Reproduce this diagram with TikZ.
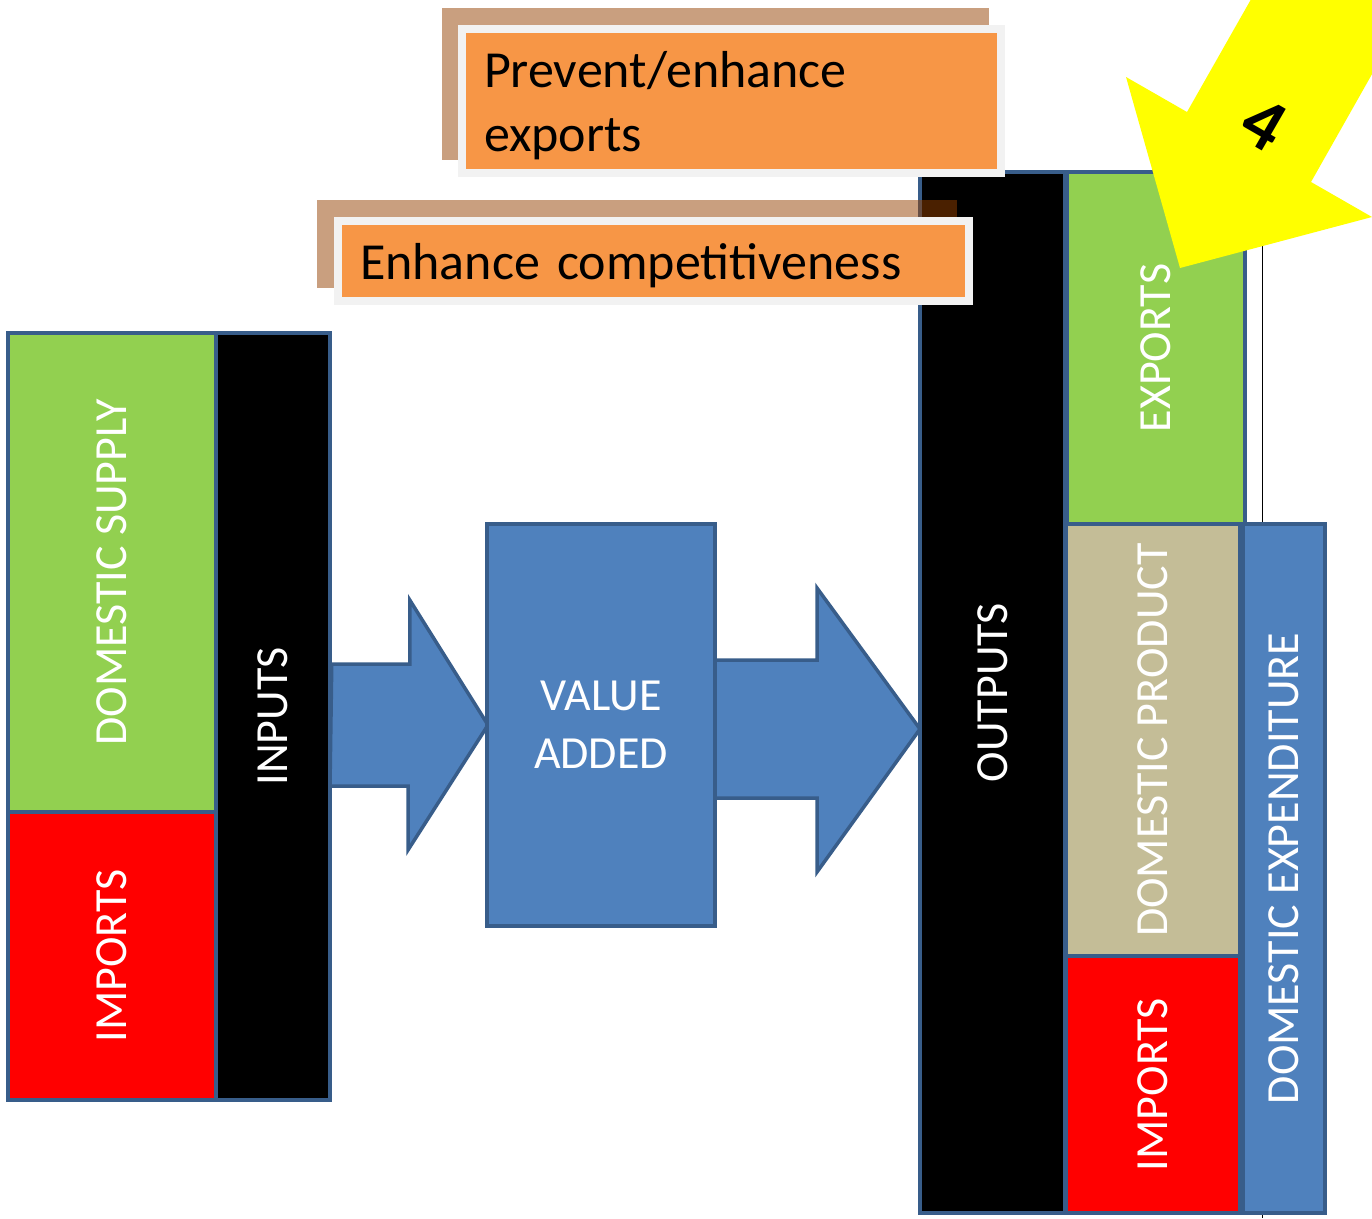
\documentclass[tikz,border=0pt]{standalone}
\usepackage{graphicx}
\usepackage{fontspec}
\setmainfont{Carlito}
\usetikzlibrary{calc}

\definecolor{edgeblue}{HTML}{385D8A}
\definecolor{fillblue}{HTML}{4F81BD}
\definecolor{leafgreen}{HTML}{92D050}
\definecolor{sandtan}{HTML}{C4BD97}
\definecolor{noteorange}{HTML}{F79646}
\definecolor{notegrey}{HTML}{F2F2F2}
\definecolor{shadebrown}{RGB}{148,64,0}
\definecolor{pointyellow}{RGB}{255,255,0}

\tikzset{
  cell/.style={draw=edgeblue, line width=3.5pt, inner sep=0pt, text=white,
    font=\fontsize{46}{58}\selectfont},
  flow/.style={draw=edgeblue, line width=3.5pt, fill=fillblue},
  note/.style={draw=notegrey, line width=8pt, fill=noteorange, text=black,
    inner xsep=22pt, inner ysep=0pt, align=left, text depth=0pt,
    font=\fontsize{52}{64}\selectfont},
  shade/.style={fill=shadebrown, opacity=0.5},
}

\newcommand{\upright}[1]{\rotatebox{90}{#1}}

\begin{document}
\begin{tikzpicture}[x=1pt,y=-1pt]
    \useasboundingbox (0,0) rectangle (1372,1218);

    % supply side
    \node[cell, fill=leafgreen, minimum width=208pt, minimum height=479pt] (domsup) at (112,572.5) {\upright{DOMESTIC SUPPLY}};
    \node[cell, fill=red, minimum width=208pt, minimum height=288pt] (impin) at (112,956) {\upright{IMPORTS}};
    \node[cell, fill=black, minimum width=114pt, minimum height=767pt] (inputs) at (273,716.5) {\upright{INPUTS}};

    % flows through value added
    \draw[flow] ($(inputs.east |- 601,725)+(0,-61)$) -- ++(78,0) -- ++(0,-64) -- (488,725)
      -- ++(-80,125) -- ++(0,-64) -- ++(-78,0) -- cycle;
    \draw[flow] (715,660) -- ++(102,0) -- ++(0,-72) -- (920,729) -- ++(-103,143)
      -- ++(0,-74) -- ++(-102,0) -- cycle;
    \node[cell, fill=fillblue, minimum width=228pt, minimum height=402pt, align=center] (val) at (601,725) {VALUE\\ADDED};

    % use side
    \draw[line width=1pt] (1262,172) -- (1262,1218);
    \node[cell, fill=black, minimum width=145pt, minimum height=1041pt] (outputs) at (992.5,692.5) {\upright{OUTPUTS}};
    \node[cell, fill=leafgreen, minimum width=178pt, minimum height=352pt] (exports) at (1156,348) {\upright{EXPORTS}};
    \node[cell, fill=sandtan, minimum width=174pt, minimum height=432pt] (domprod) at (1153,740) {\upright{DOMESTIC PRODUCT}};
    \node[cell, fill=red, minimum width=174pt, minimum height=257pt] (impout) at (1153,1084.5) {\upright{IMPORTS}};
    \node[cell, fill=fillblue, minimum width=82pt, minimum height=689pt] (domexp) at (1284,868.5) {\upright{DOMESTIC EXPENDITURE}};

    % policy notes
    \path[shade] (442,8) rectangle (989,160);
    \node[note, text depth=64pt, minimum width=539pt, minimum height=144pt, text width=495pt] (prevent) at (731.5,101) {Prevent/enhance\\exports};
    \path[shade] (317,200) rectangle (957,288);
    \node[note, minimum width=631pt, minimum height=80pt, text width=587pt] (compete) at (653.5,261) {Enhance competitiveness};

    % pointer 4
    \begin{scope}
      \clip (0,0) rectangle (1372,1218);
      \fill[pointyellow] (1296,-80) -- (1187,112) -- (1126,77) -- (1180,268) -- (1372,217)
        -- (1311,182) -- (1419,-9) -- cycle;
    \end{scope}
    \node[rotate=-30, font=\fontsize{74}{74}\bfseries\selectfont] (four) at (1264,124) {4};
\end{tikzpicture}
\end{document}
